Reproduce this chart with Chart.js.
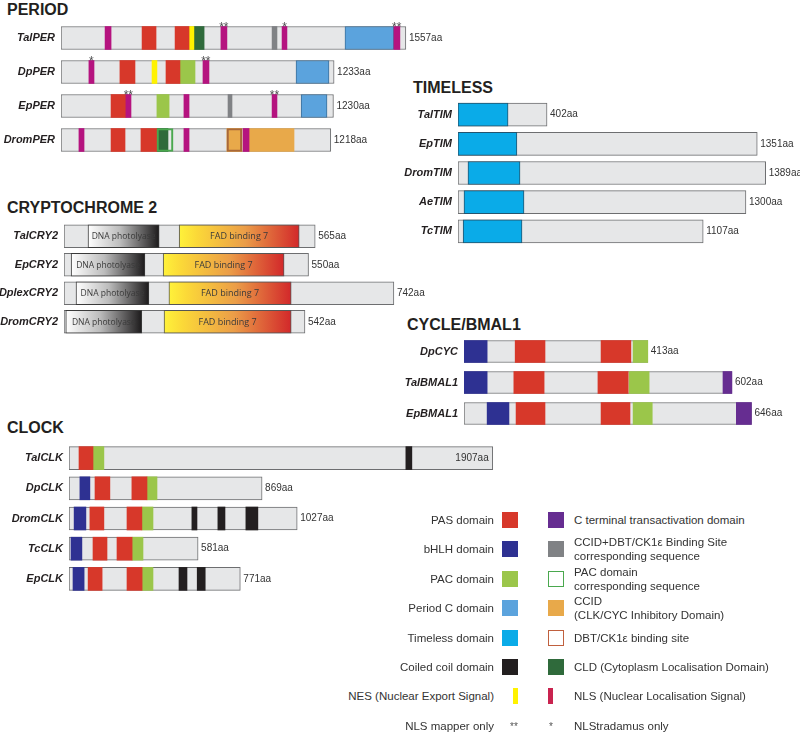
<!DOCTYPE html>
<html>
<head>
<meta charset="utf-8">
<script src="https://cdn.jsdelivr.net/npm/chart.js@4.4.1/dist/chart.umd.min.js"></script>
<style>
  body { margin: 0; background: #fff; font-family: "Liberation Sans", Arial, sans-serif; }
  #wrap { position: relative; width: 800px; height: 732px; overflow: hidden; }
  #wrap canvas { position: absolute; }
  .title { position: absolute; font-weight: bold; font-size: 16px; line-height: 16px; color: #231f20; white-space: nowrap; }
  .lg { position: absolute; font-size: 11.5px; line-height: 14px; color: #333; white-space: nowrap; }
  .sw { position: absolute; box-sizing: border-box; }
</style>
</head>
<body>
<div id="wrap">
  <div class="title" style="left:7px;top:2px">PERIOD</div>
  <div class="title" style="left:413px;top:80px">TIMELESS</div>
  <div class="title" style="left:7px;top:200px">CRYPTOCHROME 2</div>
  <div class="title" style="left:407px;top:317px">CYCLE/BMAL1</div>
  <div class="title" style="left:7px;top:420px">CLOCK</div>
</div>
<script>
// ---- data (amino-acid positions) ----
const periodProteins = ['TalPER', 'DpPER', 'EpPER', 'DromPER'];
const periodLengths = [1557, 1233, 1230, 1218];
const periodDomains = [
  ['TalPER', 'NLS', 199, 226], ['TalPER', 'PAS', 366, 429], ['TalPER', 'PAS', 515, 578],
  ['TalPER', 'NES', 578, 600], ['TalPER', 'CLD', 600, 646], ['TalPER', 'NLS', 722, 749],
  ['TalPER', 'CCIDDBT', 953, 975], ['TalPER', 'NLS', 998, 1020], ['TalPER', 'PERC', 1282, 1503],
  ['TalPER', 'NLS', 1503, 1530],
  ['DpPER', 'NLS', 126, 149], ['DpPER', 'PAS', 266, 334], ['DpPER', 'NES', 411, 433],
  ['DpPER', 'PAS', 474, 537], ['DpPER', 'PAC', 537, 605], ['DpPER', 'NLS', 641, 668],
  ['DpPER', 'PERC', 1061, 1210],
  ['EpPER', 'PAS', 226, 293], ['EpPER', 'NLS', 293, 316], ['EpPER', 'PAC', 433, 488],
  ['EpPER', 'NLS', 555, 578], ['EpPER', 'CCIDDBT', 754, 772], ['EpPER', 'NLS', 953, 975],
  ['EpPER', 'PERC', 1084, 1201],
  ['DromPER', 'NLS', 81, 104], ['DromPER', 'PAS', 226, 289], ['DromPER', 'PAS', 361, 433],
  ['DromPER', 'CLD', 433, 483], ['DromPER', 'PACC', 433, 506], ['DromPER', 'NLS', 555, 578],
  ['DromPER', 'CCID', 749, 817], ['DromPER', 'DBT', 749, 817], ['DromPER', 'NLS', 822, 849],
  ['DromPER', 'CCID', 849, 1052]
];
const periodStars = [
  ['TalPER', 735, '**'], ['TalPER', 1009, '*'], ['TalPER', 1516, '**'],
  ['DpPER', 137, '*'], ['DpPER', 654, '**'],
  ['EpPER', 304, '**'], ['EpPER', 964, '**']
];

const timProteins = ['TalTIM', 'EpTIM', 'DromTIM', 'AeTIM', 'TcTIM'];
const timLengths = [402, 1351, 1389, 1300, 1107];
const timDomains = [
  ['TalTIM', 'TIM', 0, 226], ['EpTIM', 'TIM', 0, 266], ['DromTIM', 'TIM', 45, 280],
  ['AeTIM', 'TIM', 27, 298], ['TcTIM', 'TIM', 23, 289]
];

const cryProteins = ['TalCRY2', 'EpCRY2', 'DplexCRY2', 'DromCRY2'];
const cryLengths = [565, 550, 742, 542];
const cryDomains = [
  ['TalCRY2', 'DNA', 54, 214], ['TalCRY2', 'FAD', 259, 529],
  ['EpCRY2', 'DNA', 16, 182], ['EpCRY2', 'FAD', 223, 495],
  ['DplexCRY2', 'DNA', 27, 191], ['DplexCRY2', 'FAD', 236, 511],
  ['DromCRY2', 'DNA', 4, 175], ['DromCRY2', 'FAD', 225, 511]
];

const cycProteins = ['DpCYC', 'TalBMAL1', 'EpBMAL1'];
const cycLengths = [413, 602, 646];
const cycDomains = [
  ['DpCYC', 'BHLH', 0, 52], ['DpCYC', 'PAS', 115, 182], ['DpCYC', 'PAS', 308, 375], ['DpCYC', 'PAC', 380, 413],
  ['TalBMAL1', 'BHLH', 0, 52], ['TalBMAL1', 'PAS', 112, 180], ['TalBMAL1', 'PAS', 301, 369],
  ['TalBMAL1', 'PAC', 371, 416], ['TalBMAL1', 'CTAD', 582, 602],
  ['EpBMAL1', 'BHLH', 52, 101], ['EpBMAL1', 'PAS', 117, 182], ['EpBMAL1', 'PAS', 308, 373],
  ['EpBMAL1', 'PAC', 380, 423], ['EpBMAL1', 'CTAD', 612, 646]
];

const clkProteins = ['TalCLK', 'DpCLK', 'DromCLK', 'TcCLK', 'EpCLK'];
const clkLengths = [1907, 869, 1027, 581, 771];
const clkDomains = [
  ['TalCLK', 'PAS', 45, 108], ['TalCLK', 'PAC', 108, 157], ['TalCLK', 'CC', 1516, 1543],
  ['DpCLK', 'BHLH', 49, 94], ['DpCLK', 'PAS', 117, 184], ['DpCLK', 'PAS', 283, 351], ['DpCLK', 'PAC', 351, 396],
  ['DromCLK', 'BHLH', 23, 76], ['DromCLK', 'PAS', 94, 157], ['DromCLK', 'PAS', 261, 328],
  ['DromCLK', 'PAC', 328, 378], ['DromCLK', 'CC', 553, 576], ['DromCLK', 'CC', 670, 702], ['DromCLK', 'CC', 796, 850],
  ['TcCLK', 'BHLH', 9, 58], ['TcCLK', 'PAS', 108, 171], ['TcCLK', 'PAS', 216, 284], ['TcCLK', 'PAC', 284, 333],
  ['EpCLK', 'BHLH', 18, 68], ['EpCLK', 'PAS', 86, 149], ['EpCLK', 'PAS', 261, 329], ['EpCLK', 'PAC', 329, 378],
  ['EpCLK', 'CC', 495, 531], ['EpCLK', 'CC', 577, 613]
];

const legendLeft = [
  ['PAS domain', 'box', '#d7382a'], ['bHLH domain', 'box', '#2e3192'], ['PAC domain', 'box', '#9bc64a'],
  ['Period C domain', 'box', '#5ba3dd'], ['Timeless domain', 'box', '#0aabe8'], ['Coiled coil domain', 'box', '#231f20'],
  ['NES (Nuclear Export Signal)', 'thin', '#fff200'], ['NLS mapper only', 'star', '**']
];
const legendRight = [
  ['C terminal transactivation domain', 'box', '#662d91'],
  ['CCID+DBT/CK1\u03b5 Binding Site<br>corresponding sequence', 'box', '#808285'],
  ['PAC domain<br>corresponding sequence', 'outline', '#4aa84e'],
  ['CCID<br>(CLK/CYC Inhibitory Domain)', 'box', '#e8a94a'],
  ['DBT/CK1\u03b5 binding site', 'outline', '#c0603e'],
  ['CLD (Cytoplasm Localisation Domain)', 'box', '#2f6a3b'],
  ['NLS (Nuclear Localisation Signal)', 'thin', '#c9234f'],
  ['NLStradamus only', 'star', '*']
];

// ---- styles ----
function gradFill(stops) {
  return c => {
    const x = c.chart.scales && c.chart.scales.x;
    if (!x || !c.raw) return stops[1][1];
    const x0 = x.getPixelForValue(c.raw.x[0]), x1 = x.getPixelForValue(c.raw.x[1]);
    if (!isFinite(x0) || !isFinite(x1)) return stops[1][1];
    const g = c.chart.ctx.createLinearGradient(x0, 0, x1, 0);
    stops.forEach(s => g.addColorStop(s[0], s[1]));
    return g;
  };
}
const domainStyle = {
  PAS:     { fill: '#d7382a' },
  BHLH:    { fill: '#2e3192' },
  PAC:     { fill: '#9bc64a' },
  PERC:    { fill: '#5ba3dd', line: '#3d6f99', width: 1 },
  TIM:     { fill: '#0aabe8', line: '#24546e', width: 1 },
  CC:      { fill: '#231f20' },
  NES:     { fill: '#fff200' },
  CTAD:    { fill: '#662d91' },
  CCIDDBT: { fill: '#808285' },
  CCID:    { fill: '#e8a94a', order: 6 },
  CLD:     { fill: '#2f6a3b' },
  NLS:     { fill: '#b5137f' },
  PACC:    { fill: 'rgba(0,0,0,0)', line: '#4aa84e', width: 1.5, order: 1 },
  DBT:     { fill: 'rgba(0,0,0,0)', line: '#a8683a', width: 1.5, order: 1 },
  DNA:     { fill: gradFill([[0, '#ffffff'], [0.45, '#bcbcbc'], [1, '#1c1a1b']]), line: '#3a3a3a', width: 1, text: 'DNA photolyase', font: 8.5 },
  FAD:     { fill: gradFill([[0, '#fff23a'], [0.15, '#fbd838'], [0.55, '#eb9d48'], [1, '#d2282a']]), line: '#555', width: 1, text: 'FAD binding 7', font: 9 }
};

const panels = [
  { proteins: periodProteins, lengths: periodLengths, domains: periodDomains, stars: periodStars,
    left: 0, top: 21, width: 460, height: 136, axisW: 61, pxPerAa: 0.2215, thick: 23 },
  { proteins: timProteins, lengths: timLengths, domains: timDomains, stars: [],
    left: 400, top: 100, width: 400, height: 146, axisW: 58, pxPerAa: 0.2215, thick: 23 },
  { proteins: cryProteins, lengths: cryLengths, domains: cryDomains, stars: [],
    left: 0, top: 222, width: 430, height: 114, axisW: 64, pxPerAa: 0.4446, thick: 23 },
  { proteins: cycProteins, lengths: cycLengths, domains: cycDomains, stars: [],
    left: 400, top: 336, width: 400, height: 93, axisW: 64, pxPerAa: 0.445, thick: 22 },
  { proteins: clkProteins, lengths: clkLengths, domains: clkDomains, stars: [],
    left: 0, top: 443, width: 500, height: 151, axisW: 69, pxPerAa: 0.2222, thick: 23 }
];

const wrap = document.getElementById('wrap');

panels.forEach(p => {
  const canvas = document.createElement('canvas');
  canvas.width = p.width;
  canvas.height = p.height;
  canvas.style.left = p.left + 'px';
  canvas.style.top = p.top + 'px';
  wrap.appendChild(canvas);

  const datasets = [{
    data: p.proteins.map((name, i) => ({ y: name, x: [0, p.lengths[i]] })),
    backgroundColor: '#e6e7e8', borderColor: '#6d6e70', borderWidth: 1, order: 10
  }];
  const types = [...new Set(p.domains.map(d => d[1]))];
  types.forEach(t => {
    const st = domainStyle[t];
    datasets.push({
      label: t,
      data: p.domains.filter(d => d[1] === t).map(d => ({ y: d[0], x: [d[2], d[3]] })),
      backgroundColor: st.fill,
      borderColor: st.line || st.fill,
      borderWidth: st.width || 0,
      order: st.order || 5
    });
  });

  // lengths, asterisks and in-domain names
  const annotate = {
    id: 'annotate',
    afterDatasetsDraw(chart) {
      const { ctx, scales: { x, y }, chartArea } = chart;
      ctx.save();
      ctx.textBaseline = 'middle';
      ctx.font = '10px "Liberation Sans", Arial, sans-serif';
      ctx.fillStyle = '#333';
      p.lengths.forEach((len, i) => {
        const txt = len + 'aa';
        const yc = y.getPixelForValue(i);
        const xe = x.getPixelForValue(len);
        const w = ctx.measureText(txt).width;
        if (xe + 3 + w > chartArea.right + 4) {
          ctx.textAlign = 'right';
          ctx.fillText(txt, xe - 4, yc);
        } else {
          ctx.textAlign = 'left';
          ctx.fillText(txt, xe + 3, yc);
        }
      });
      ctx.textAlign = 'center';
      ctx.textBaseline = 'alphabetic';
      ctx.fillStyle = '#4d4d4f';
      ctx.font = '12px "Liberation Sans", Arial, sans-serif';
      p.stars.forEach(s => {
        const yc = y.getPixelForValue(p.proteins.indexOf(s[0]));
        ctx.fillText(s[2], x.getPixelForValue(s[1]), yc - p.thick / 2 + 4);
      });
      ctx.textBaseline = 'middle';
      ctx.fillStyle = '#3a3a3a';
      p.domains.forEach(d => {
        const st = domainStyle[d[1]];
        if (!st.text) return;
        ctx.font = st.font + 'px "Open Sans", "Liberation Sans", sans-serif';
        const yc = y.getPixelForValue(p.proteins.indexOf(d[0]));
        ctx.fillText(st.text, (x.getPixelForValue(d[2]) + x.getPixelForValue(d[3])) / 2, yc + 0.5);
      });
      ctx.restore();
    }
  };

  new Chart(canvas, {
    type: 'bar',
    data: { labels: p.proteins, datasets },
    options: {
      indexAxis: 'y',
      responsive: false,
      animation: false,
      events: [],
      layout: { padding: 0 },
      datasets: { bar: { grouped: false, barThickness: p.thick, borderSkipped: false } },
      plugins: { legend: { display: false }, tooltip: { enabled: false }, title: { display: false } },
      scales: {
        x: { type: 'linear', min: 0, max: (p.width - p.axisW) / p.pxPerAa, display: false },
        y: {
          type: 'category', labels: p.proteins, offset: true,
          grid: { display: false, drawTicks: false }, border: { display: false },
          ticks: { padding: 6, color: '#231f20',
            font: { family: '"Liberation Sans", Arial, sans-serif', size: 11, weight: 'bold', style: 'italic' } },
          afterFit(a) { a.width = p.axisW; a.paddingTop = 0; a.paddingBottom = 0; }
        }
      }
    },
    plugins: [annotate]
  });
});

// ---- legend ----
function addLegendRow(item, yc, side) {
  const [label, kind, color] = item;
  const t = document.createElement('div');
  t.className = 'lg';
  t.innerHTML = label;
  const lines = label.split('<br>').length;
  t.style.top = (yc - lines * 7) + 'px';
  if (side === 'L') t.style.right = (800 - 494) + 'px'; else t.style.left = '574px';
  wrap.appendChild(t);

  const sx = side === 'L' ? 502 : 548;
  const s = document.createElement('div');
  s.className = 'sw';
  if (kind === 'box') {
    Object.assign(s.style, { left: sx + 'px', top: (yc - 8) + 'px', width: '16px', height: '16px', background: color });
  } else if (kind === 'outline') {
    Object.assign(s.style, { left: sx + 'px', top: (yc - 8) + 'px', width: '16px', height: '16px', border: '1.5px solid ' + color });
  } else if (kind === 'thin') {
    const tx = side === 'L' ? 513 : 548;
    Object.assign(s.style, { left: tx + 'px', top: (yc - 8) + 'px', width: '5px', height: '16px', background: color });
  } else {
    s.textContent = color;
    Object.assign(s.style, { left: (side === 'L' ? 508 : 545) + 'px', top: (yc - 4) + 'px', width: '12px',
      fontSize: '10px', lineHeight: '10px', color: '#555', textAlign: 'center' });
  }
  wrap.appendChild(s);
}
legendLeft.forEach((it, i) => addLegendRow(it, 520 + i * 29.4, 'L'));
legendRight.forEach((it, i) => addLegendRow(it, 520 + i * 29.4, 'R'));
</script>
</body>
</html>
